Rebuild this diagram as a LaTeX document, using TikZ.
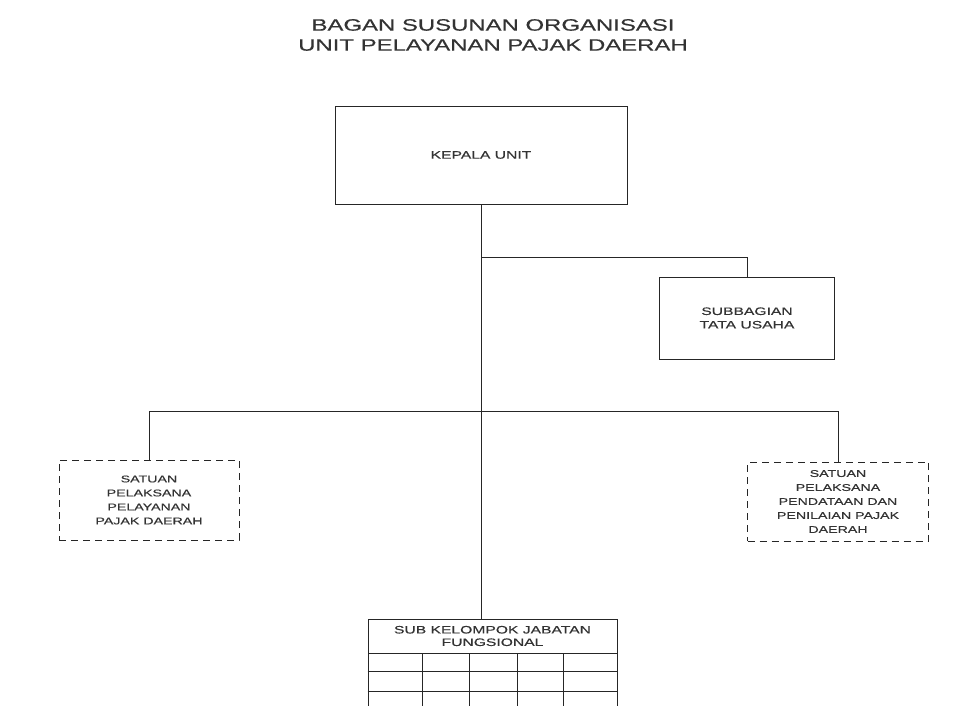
\documentclass[tikz,border=0pt]{standalone}
\usepackage{fontspec}
\setmainfont{Liberation Sans}[FakeStretch=1.45, FakeBold=0.4]

\begin{document}
\begin{tikzpicture}[
  x=1pt, y=-1pt,
  line width=0.9pt,
  draw=black!85,
  every node/.style={text=black!80, align=center, inner sep=0pt},
  kotak/.style={draw, rectangle, font=\fontsize{10.8}{13.5}\selectfont},
  kotak putus/.style={kotak, dash pattern=on 7pt off 5pt, font=\fontsize{9.8}{14}\selectfont},
]
\useasboundingbox (0,0) rectangle (959,706);
\node[font=\fontsize{16.5}{20}\selectfont] (judul) at (493,35)
  {BAGAN SUSUNAN ORGANISASI\\UNIT PELAYANAN PAJAK DAERAH};
\node[kotak, minimum width=292pt, minimum height=98pt] (kepala) at (481,155) {KEPALA UNIT};
\node[kotak, minimum width=175pt, minimum height=82pt] (subbag) at (747,318) {SUBBAGIAN\\TATA USAHA};
\node[kotak putus, minimum width=180pt, minimum height=80pt] (satuan1) at (149,500)
  {SATUAN\\PELAKSANA\\PELAYANAN\\PAJAK DAERAH};
\node[kotak putus, minimum width=181pt, minimum height=79pt] (satuan2) at (838,501.5)
  {SATUAN\\PELAKSANA\\PENDATAAN DAN\\PENILAIAN PAJAK\\DAERAH};
\node[kotak, minimum width=249pt, minimum height=34pt, font=\fontsize{10.8}{12.5}\selectfont] (fungsional) at (492.5,636)
  {SUB KELOMPOK JABATAN\\FUNGSIONAL};

\draw (kepala.south) -- (kepala.south |- fungsional.north);
\draw (kepala.south |- 0,257) -| (subbag.north);
\draw (satuan1.north) -- (satuan1.north |- 0,411) -- (satuan2.north |- 0,411) -- (satuan2.north);
\foreach \y in {671,691}
  \draw (fungsional.west |- 0,\y) -- (fungsional.east |- 0,\y);
\foreach \x in {368,422,469,517,563,617}
  \draw (\x,653) -- (\x,706);
\end{tikzpicture}
\end{document}
